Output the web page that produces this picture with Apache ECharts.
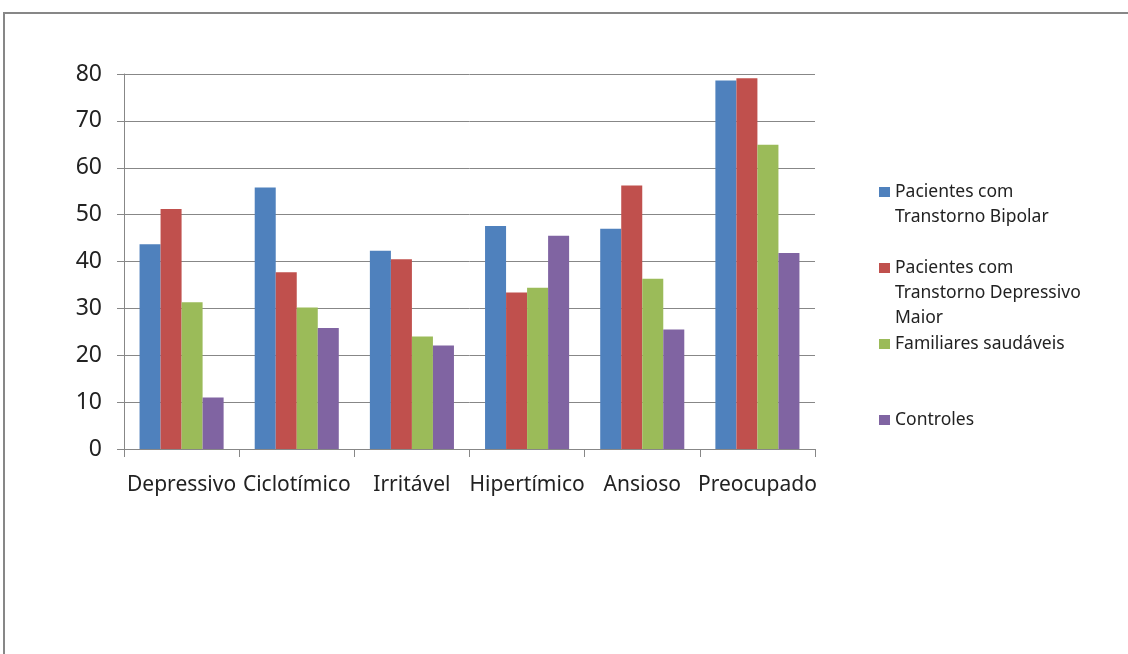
<!DOCTYPE html>
<html>
<head>
<meta charset="utf-8">
<script src="https://cdn.jsdelivr.net/npm/echarts@6/dist/echarts.min.js"></script>
<style>
  html, body { margin: 0; padding: 0; background: #ffffff; }
  #chart { width: 1128px; height: 654px; }
</style>
</head>
<body>
<div id="chart"></div>
<script>
// Temperament categories on the x axis
const categories = ['Depressivo', 'Ciclotímico', 'Irritável', 'Hipertímico', 'Ansioso', 'Preocupado'];

// Group names and how they wrap in the legend
const seriesNames = [
  'Pacientes com Transtorno Bipolar',
  'Pacientes com Transtorno Depressivo Maior',
  'Familiares saudáveis',
  'Controles'
];
const legendLines = [
  ['Pacientes com', 'Transtorno Bipolar'],
  ['Pacientes com', 'Transtorno Depressivo', 'Maior'],
  ['Familiares saudáveis'],
  ['Controles']
];

// Values per group, one per category
const bipolar    = [43.7, 55.8, 42.3, 47.6, 47.0, 78.6];
const depressivo = [51.2, 37.7, 40.5, 33.4, 56.2, 79.1];
const familiares = [31.3, 30.2, 24.0, 34.4, 36.3, 64.9];
const controles  = [11.0, 25.8, 22.1, 45.5, 25.5, 41.8];

// Y axis scale
const yMin = 0;
const yMax = 80;
const yStep = 10;

const seriesValues = [bipolar, depressivo, familiares, controles];
const colors = ['#4F81BD', '#C0504D', '#9BBB59', '#8064A2'];

const FONT = '"Noto Sans", "DejaVu Sans", sans-serif';
const TEXT = '#222222';
const LINE = '#878787';

const chart = echarts.init(document.getElementById('chart'), null, { renderer: 'canvas' });

// Each legend entry is its own component so entries sit at fixed rows;
// leading blank lines keep the marker level with the first text line.
const legendRowCenters = [192, 268, 344, 420];
const legendLineHeight = 25;
const legends = seriesNames.map((name, i) => {
  const n = legendLines[i].length;
  const pad = n - 1;
  const totalLines = n + pad;
  return {
    data: [name],
    orient: 'vertical',
    left: 879,
    top: legendRowCenters[i] - (totalLines * legendLineHeight) / 2,
    padding: 0,
    icon: 'rect',
    itemWidth: 11,
    itemHeight: 10,
    selectedMode: false,
    formatter: () => '\n'.repeat(pad) + legendLines[i].join('\n'),
    textStyle: {
      fontFamily: FONT,
      fontSize: 17.5,
      color: TEXT,
      lineHeight: legendLineHeight
    }
  };
});

const option = {
  animation: false,
  backgroundColor: '#ffffff',
  color: colors,
  graphic: [{
    type: 'rect',
    shape: { x: 4, y: 13, width: 1300, height: 800 },
    style: { fill: 'none', stroke: LINE, lineWidth: 2 },
    silent: true
  }],
  legend: legends,
  grid: {
    left: 124,
    right: 313,
    top: 74,
    bottom: 205,
    containLabel: false
  },
  xAxis: {
    type: 'category',
    data: categories,
    boundaryGap: true,
    axisLine: { show: true, lineStyle: { color: LINE, width: 1 } },
    axisTick: { show: true, alignWithLabel: false, length: 8, lineStyle: { color: LINE } },
    axisLabel: {
      interval: 0,
      margin: 26,
      fontFamily: FONT,
      fontSize: 21,
      color: TEXT
    },
    splitLine: { show: false }
  },
  yAxis: {
    type: 'value',
    min: yMin,
    max: yMax,
    interval: yStep,
    axisLine: { show: true, lineStyle: { color: LINE, width: 1 } },
    axisTick: { show: true, length: 7, lineStyle: { color: LINE } },
    axisLabel: {
      margin: 22,
      fontFamily: FONT,
      fontSize: 23,
      color: TEXT
    },
    splitLine: { show: true, lineStyle: { color: LINE, width: 1 } }
  },
  series: seriesNames.map((name, i) => ({
    name: name,
    type: 'bar',
    data: seriesValues[i],
    barGap: '0%',
    barCategoryGap: '27%',
    itemStyle: { color: colors[i] },
    emphasis: { disabled: true }
  }))
};

chart.setOption(option);
</script>
</body>
</html>
